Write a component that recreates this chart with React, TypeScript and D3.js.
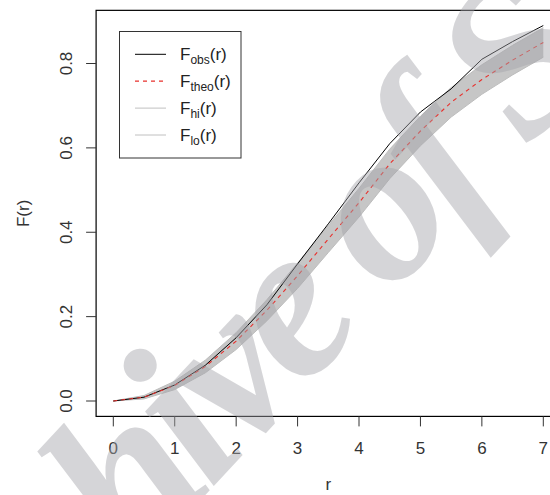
import * as d3 from "d3";

// r grid and the curves
const rValues = [0, 0.5, 1, 1.5, 2, 2.5, 3, 3.5, 4, 4.5, 5, 5.5, 6, 6.5, 7];
const fObs = [0, 0.009, 0.038, 0.085, 0.15, 0.228, 0.325, 0.42, 0.517, 0.61, 0.685, 0.74, 0.81, 0.852, 0.89];
const fTheo = [0, 0.009, 0.037, 0.082, 0.142, 0.215, 0.297, 0.384, 0.47, 0.562, 0.64, 0.708, 0.762, 0.808, 0.85];
const fHi = [0, 0.013, 0.047, 0.097, 0.162, 0.24, 0.327, 0.416, 0.504, 0.597, 0.675, 0.743, 0.797, 0.843, 0.885];
const fLo = [0, 0.005, 0.027, 0.067, 0.122, 0.19, 0.267, 0.352, 0.436, 0.527, 0.605, 0.673, 0.727, 0.773, 0.815];

const xTicks = [0, 1, 2, 3, 4, 5, 6, 7];
const yTicks = [0, 0.2, 0.4, 0.6, 0.8];

const legendItems = [
  { sub: "obs", color: "#000000", dash: "none" },
  { sub: "theo", color: "#e8302c", dash: "4,4" },
  { sub: "hi", color: "#c0c0c0", dash: "none" },
  { sub: "lo", color: "#c0c0c0", dash: "none" },
];

const W = 550;
const H = 495;
const FONT = "'Liberation Sans', Arial, sans-serif";

export default function App() {
  // R style: data range plus 4% on each side
  const x = d3.scaleLinear().domain([0, 7]).range([113.3, 543.3]);
  const y = d3.scaleLinear().domain([0, 0.8]).range([401, 63.5]);
  const frame = { x0: x(-0.28), x1: x(7.28), y0: y(0.926), y1: y(-0.0365) };

  const pts = rValues.map((r, i) => ({ r, obs: fObs[i], theo: fTheo[i], hi: fHi[i], lo: fLo[i] }));
  const line = (key: "obs" | "theo" | "hi" | "lo") =>
    d3.line<any>().x((d) => x(d.r)).y((d) => y(d[key]))(pts) || "";
  const band =
    d3.area<any>().x((d) => x(d.r)).y0((d) => y(d.lo)).y1((d) => y(d.hi))(pts) || "";

  const legX = 119.5;
  const legY = 31.5;

  return (
    <svg
      width={W}
      height={H}
      style={{ position: "absolute", left: 0, top: 0, background: "#fff" }}
      fontFamily={FONT}
    >
      <path d={band} fill="#c6c6c6" />
      <path d={line("hi")} fill="none" stroke="#bdbdbd" strokeWidth={1} />
      <path d={line("lo")} fill="none" stroke="#bdbdbd" strokeWidth={1} />
      <path d={line("obs")} fill="none" stroke="#000" strokeWidth={1} />
      <path d={line("theo")} fill="none" stroke="#e8302c" strokeWidth={1.1} strokeDasharray="4,4" />

      {/* frame */}
      <rect
        x={frame.x0}
        y={frame.y0}
        width={frame.x1 - frame.x0}
        height={frame.y1 - frame.y0}
        fill="none"
        stroke="#000"
        strokeWidth={1.2}
      />

      {/* x axis */}
      {xTicks.map((t) => (
        <g key={t}>
          <line x1={x(t)} x2={x(t)} y1={frame.y1} y2={frame.y1 + 10} stroke="#333" />
          <text x={x(t)} y={454} textAnchor="middle" fontSize={17} fill="#333">
            {t}
          </text>
        </g>
      ))}
      <text x={(frame.x0 + frame.x1) / 2} y={490} textAnchor="middle" fontSize={17} fill="#333">
        r
      </text>

      {/* y axis */}
      {yTicks.map((t) => (
        <g key={t}>
          <line x1={frame.x0 - 10} x2={frame.x0} y1={y(t)} y2={y(t)} stroke="#333" />
          <text
            transform={`translate(72,${y(t)}) rotate(-90)`}
            textAnchor="middle"
            fontSize={17}
            fill="#333"
          >
            {t.toFixed(1)}
          </text>
        </g>
      ))}
      <text
        transform={`translate(29,${(frame.y0 + frame.y1) / 2}) rotate(-90)`}
        textAnchor="middle"
        fontSize={17}
        fill="#333"
      >
        F(r)
      </text>

      {/* legend */}
      <rect x={legX} y={legY} width={121.5} height={126.5} fill="#fff" stroke="#333" strokeWidth={1} />
      {legendItems.map((d, i) => {
        const cy = 54.3 + i * 26.9;
        return (
          <g key={d.sub}>
            <line x1={135} x2={166} y1={cy} y2={cy} stroke={d.color} strokeDasharray={d.dash} strokeWidth={d.sub === "theo" ? 1.3 : 1} />
            <text x={180} y={cy + 6} fontSize={17} fill="#222">
              F
              <tspan fontSize={12} dy={4}>{d.sub}</tspan>
              <tspan dy={-4}>(r)</tspan>
            </text>
          </g>
        );
      })}

      {/* watermark */}
      <g
        transform="translate(210,490) rotate(-47)"
        fontFamily="'Liberation Serif', 'DejaVu Serif', serif"
        fontWeight="bold"
        fontStyle="italic"
        fontSize={220}
        letterSpacing={-12}
        fill="#a4a4aa"
        opacity={0.45}
      >
        <text x={0} y={0} textAnchor="end">Arch</text>
        <text x={0} y={0}>ive of SID</text>
      </g>
    </svg>
  );
}
